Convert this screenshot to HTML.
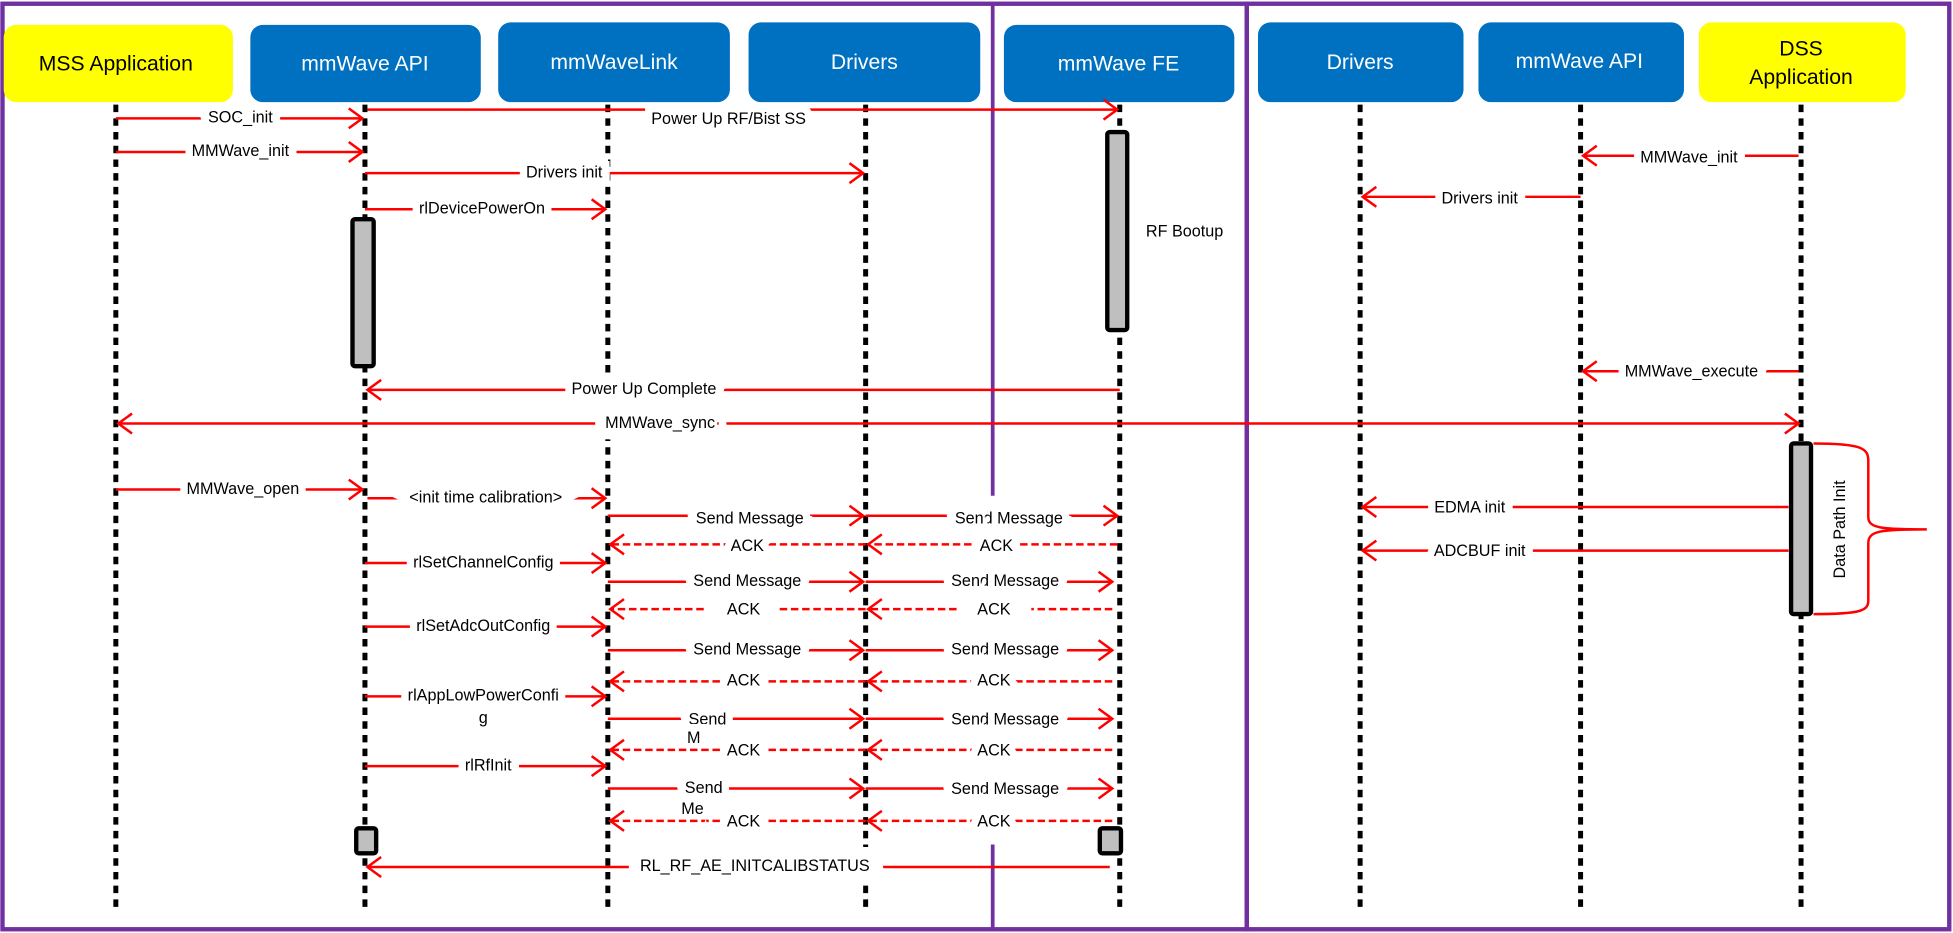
<!DOCTYPE html>
<html><head><meta charset="utf-8"><style>
html,body{margin:0;padding:0;background:#fff;overflow:hidden}
svg{display:block}
text{font-family:"Liberation Sans Narrow","Liberation Sans",sans-serif}
.l{font-size:13px;fill:#000;stroke:#fff;stroke-width:12px;paint-order:stroke;text-anchor:middle;dominant-baseline:middle}
.h{font-size:17px;text-anchor:middle;dominant-baseline:middle}
.m{stroke:#f00;stroke-width:2;fill:none}
.d{stroke:#f00;stroke-width:2;fill:none;stroke-dasharray:6 3}
.ll{stroke:#000;stroke-width:4;stroke-dasharray:6 5}
.bar{fill:#bfbfbf;stroke:#000;stroke-width:3.5}
</style></head><body>
<svg width="1953" height="933" viewBox="0 0 1568 749" preserveAspectRatio="none">
<defs>
<marker id="a" markerUnits="userSpaceOnUse" markerWidth="14" markerHeight="20" refX="12" refY="10" orient="auto"><path d="M1,2 L12,10 L1,18" stroke="#f00" stroke-width="2" fill="none"/></marker>
<marker id="b" markerUnits="userSpaceOnUse" markerWidth="14" markerHeight="20" refX="2" refY="10" orient="auto"><path d="M13,2 L2,10 L13,18" stroke="#f00" stroke-width="2" fill="none"/></marker>
</defs>
<!-- frames -->
<rect x="2" y="3" width="999" height="743" fill="none" stroke="#7030a0" stroke-width="3.5"/>
<rect x="1001" y="3" width="564" height="743" fill="none" stroke="#7030a0" stroke-width="3.5"/>
<line x1="797" y1="3" x2="797" y2="398" stroke="#7030a0" stroke-width="3"/>
<line x1="797" y1="678" x2="797" y2="746" stroke="#7030a0" stroke-width="3"/>
<!-- headers -->
<rect x="3" y="20" width="184" height="62" rx="10" fill="#ffff00"/>
<rect x="201" y="20" width="185" height="62" rx="10" fill="#0070c0"/>
<rect x="400" y="18" width="186" height="64" rx="10" fill="#0070c0"/>
<rect x="601" y="18" width="186" height="64" rx="10" fill="#0070c0"/>
<rect x="806" y="20" width="185" height="62" rx="10" fill="#0070c0"/>
<rect x="1010" y="18" width="165" height="64" rx="10" fill="#0070c0"/>
<rect x="1187" y="18" width="165" height="64" rx="10" fill="#0070c0"/>
<rect x="1364" y="18" width="166" height="64" rx="10" fill="#ffff00"/>
<text class="h" x="93" y="52" fill="#000">MSS Application</text>
<text class="h" x="293" y="52" fill="#fff">mmWave API</text>
<text class="h" x="493" y="51" fill="#fff">mmWaveLink</text>
<text class="h" x="694" y="51" fill="#fff">Drivers</text>
<text class="h" x="898" y="52" fill="#fff">mmWave FE</text>
<text class="h" x="1092" y="51" fill="#fff">Drivers</text>
<text class="h" x="1268" y="50" fill="#fff">mmWave API</text>
<text class="h" x="1446" y="40" fill="#000">DSS</text>
<text class="h" x="1446" y="63" fill="#000">Application</text>
<!-- lifelines -->
<line class="ll" x1="93" y1="84" x2="93" y2="732"/>
<line class="ll" x1="293" y1="84" x2="293" y2="732"/>
<line class="ll" x1="488" y1="84" x2="488" y2="732"/>
<line class="ll" x1="695" y1="84" x2="695" y2="732"/>
<line class="ll" x1="899" y1="84" x2="899" y2="732"/>
<line class="ll" x1="1092" y1="84" x2="1092" y2="732"/>
<line class="ll" x1="1269" y1="84" x2="1269" y2="732"/>
<line class="ll" x1="1446" y1="84" x2="1446" y2="732"/>
<!-- bars -->
<rect class="bar" x="283" y="176" width="17" height="118" rx="2"/>
<rect class="bar" x="889" y="106" width="16" height="159" rx="2"/>
<rect class="bar" x="1438" y="356" width="16" height="137" rx="2"/>
<rect class="bar" x="286" y="665" width="16" height="20" rx="2"/>
<rect class="bar" x="883" y="665" width="17" height="20" rx="2"/>
<!-- messages -->
<g>
<line class="m" x1="295" y1="88" x2="897" y2="88" marker-end="url(#a)"/>
<text class="l" x="585" y="96">Power Up RF/Bist SS</text>
<line class="m" x1="93" y1="95" x2="291" y2="95" marker-end="url(#a)"/><text class="l" x="193" y="95">SOC_init</text>
<line class="m" x1="93" y1="122" x2="291" y2="122" marker-end="url(#a)"/><text class="l" x="193" y="122">MMWave_init</text>
<line class="m" x1="293" y1="139" x2="693" y2="139" marker-end="url(#a)"/><text class="l" x="453" y="139">Drivers init</text>
<line class="m" x1="293" y1="168" x2="486" y2="168" marker-end="url(#a)"/><text class="l" x="387" y="168">rlDevicePowerOn</text>
<text x="920" y="190" style="font-size:13px">RF Bootup</text>
<line class="m" x1="1444" y1="125" x2="1271" y2="125" marker-end="url(#a)"/><text class="l" x="1356" y="127">MMWave_init</text>
<line class="m" x1="1269" y1="158" x2="1094" y2="158" marker-end="url(#a)"/><text class="l" x="1188" y="160">Drivers init</text>
<line class="m" x1="1444" y1="298" x2="1271" y2="298" marker-end="url(#a)"/><text class="l" x="1358" y="299">MMWave_execute</text>
<line class="m" x1="899" y1="313" x2="295" y2="313" marker-end="url(#a)"/><text class="l" x="517" y="313">Power Up Complete</text>
<line class="m" x1="95" y1="340" x2="1444" y2="340" marker-start="url(#b)" marker-end="url(#a)"/><text class="l" x="530" y="340" style="stroke-width:18px">   MMWave_sync   </text>
<line class="m" x1="93" y1="393" x2="291" y2="393" marker-end="url(#a)"/><text class="l" x="195" y="393">MMWave_open</text>
<line class="m" x1="295" y1="400" x2="486" y2="400" marker-end="url(#a)"/><text class="l" x="390" y="400">&lt;init time calibration&gt;</text>
<line class="m" x1="1436" y1="407" x2="1094" y2="407" marker-end="url(#a)"/><text class="l" x="1180" y="408">EDMA init</text>
<line class="m" x1="1436" y1="442" x2="1094" y2="442" marker-end="url(#a)"/><text class="l" x="1188" y="443">ADCBUF init</text>
<!-- send/ack blocks -->
<line class="m" x1="488" y1="414" x2="693" y2="414" marker-end="url(#a)"/><text class="l" x="602" y="417">Send Message</text>
<line class="m" x1="695" y1="414" x2="897" y2="414" marker-end="url(#a)"/><text class="l" x="810" y="417">Send Message</text>
<line class="d" x1="695" y1="437" x2="490" y2="437" marker-end="url(#a)"/><text class="l" x="600" y="439">ACK</text>
<line class="d" x1="897" y1="437" x2="697" y2="437" marker-end="url(#a)"/><text class="l" x="800" y="439">ACK</text>
<line class="m" x1="293" y1="452" x2="486" y2="452" marker-end="url(#a)"/><text class="l" x="388" y="452">rlSetChannelConfig</text>
<line class="m" x1="488" y1="467" x2="693" y2="467" marker-end="url(#a)"/><text class="l" x="600" y="467">Send Message</text>
<line class="m" x1="695" y1="467" x2="893" y2="467" marker-end="url(#a)"/><text class="l" x="807" y="467">Send Message</text>
<line class="d" x1="565" y1="489" x2="490" y2="489" marker-end="url(#a)"/>
<line class="d" x1="695" y1="489" x2="626" y2="489"/>
<line class="d" x1="768" y1="489" x2="697" y2="489" marker-end="url(#a)"/>
<line class="d" x1="893" y1="489" x2="828" y2="489"/>
<text class="l" x="597" y="490">ACK</text><text class="l" x="798" y="490">ACK</text>
<line class="m" x1="293" y1="503" x2="486" y2="503" marker-end="url(#a)"/><text class="l" x="388" y="503">rlSetAdcOutConfig</text>
<line class="m" x1="488" y1="522" x2="693" y2="522" marker-end="url(#a)"/><text class="l" x="600" y="522">Send Message</text>
<line class="m" x1="695" y1="522" x2="893" y2="522" marker-end="url(#a)"/><text class="l" x="807" y="522">Send Message</text>
<line class="d" x1="695" y1="547" x2="490" y2="547" marker-end="url(#a)"/><line class="d" x1="893" y1="547" x2="697" y2="547" marker-end="url(#a)"/>
<text class="l" x="597" y="547">ACK</text><text class="l" x="798" y="547">ACK</text>
<line class="m" x1="293" y1="559" x2="486" y2="559" marker-end="url(#a)"/><text class="l" x="388" y="559">rlAppLowPowerConfi</text><text class="l" x="388" y="577">g</text>
<line class="m" x1="488" y1="577" x2="693" y2="577" marker-end="url(#a)"/><text class="l" x="568" y="578">Send</text><text class="l" x="557" y="593">M</text>
<line class="m" x1="695" y1="577" x2="893" y2="577" marker-end="url(#a)"/><text class="l" x="807" y="578">Send Message</text>
<line class="d" x1="695" y1="602" x2="490" y2="602" marker-end="url(#a)"/><line class="d" x1="893" y1="602" x2="697" y2="602" marker-end="url(#a)"/>
<text class="l" x="597" y="603">ACK</text><text class="l" x="798" y="603">ACK</text>
<line class="m" x1="293" y1="615" x2="486" y2="615" marker-end="url(#a)"/><text class="l" x="392" y="615">rlRfInit</text>
<line class="m" x1="488" y1="633" x2="693" y2="633" marker-end="url(#a)"/><text class="l" x="565" y="633">Send</text><text class="l" x="556" y="650">Me</text>
<line class="m" x1="695" y1="633" x2="893" y2="633" marker-end="url(#a)"/><text class="l" x="807" y="634">Send Message</text>
<line class="d" x1="695" y1="659" x2="490" y2="659" marker-end="url(#a)"/><line class="d" x1="893" y1="659" x2="697" y2="659" marker-end="url(#a)"/>
<text class="l" x="597" y="660">ACK</text><text class="l" x="798" y="660">ACK</text>
<line class="m" x1="891" y1="696" x2="295" y2="696" marker-end="url(#a)"/><text class="l" x="606" y="696" style="stroke-width:20px">RL_RF_AE_INITCALIBSTATUS</text>
</g>
<!-- brace -->
<path d="M1456,356 C1495,356 1500,360 1500,370 L1500,415 C1500,424 1510,425 1547,425 C1510,425 1500,426 1500,436 L1500,482 C1500,490 1495,493 1456,493" class="m"/>
<text x="0" y="0" transform="translate(1478,425) rotate(-90)" style="font-size:13px;text-anchor:middle;dominant-baseline:middle">Data Path Init</text>
</svg>
</body></html>
